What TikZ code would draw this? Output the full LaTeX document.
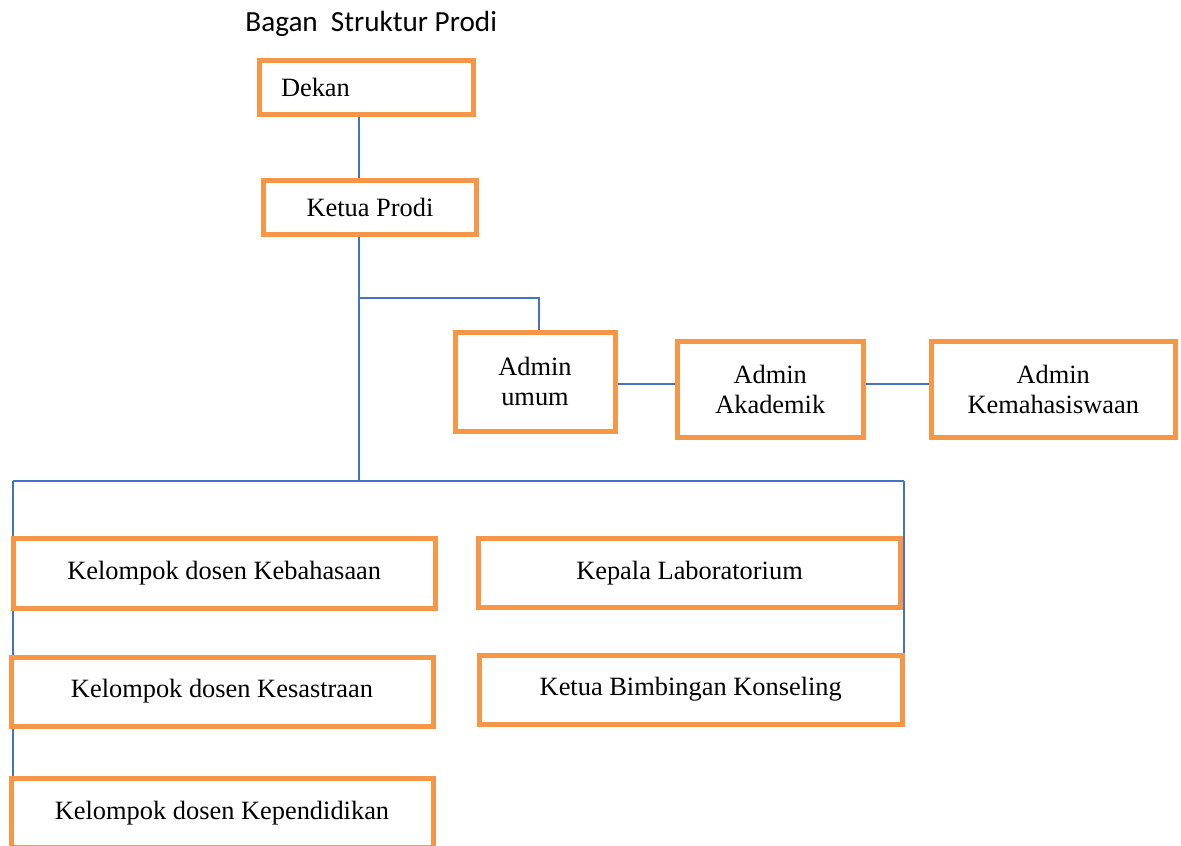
\documentclass[tikz,border=0pt]{standalone}
\usepackage{fontspec}
\setmainfont{Liberation Serif}
\newfontfamily\judulfont{Carlito}
\usetikzlibrary{backgrounds}

\definecolor{oranye}{HTML}{F79646}
\definecolor{biru}{HTML}{4472C4}

\tikzset{
	kotak/.style={draw=oranye, line width=2.5pt, fill=white, inner sep=0pt,
		align=center, font=\fontsize{13.2}{15}\selectfont},
	garis/.style={draw=biru, line width=0.9pt},
}

\begin{document}
\begin{tikzpicture}[x=0.5pt, y=-0.5pt]
		\useasboundingbox (0,0) rectangle (1181,845);
		\clip (0,0) rectangle (1181,845);

		% Judul
		\node[anchor=base west, inner sep=0pt, font=\judulfont\fontsize{14.6}{16}\selectfont] (judul) at (245,31.5) {Bagan\ \ Struktur Prodi};

		% Pimpinan
		\node[kotak, minimum width=107pt, minimum height=27pt, text width=85pt, inner xsep=11pt, align=left] (dekan) at (366,87.5) {Dekan};
		\node[kotak, minimum width=106.75pt, minimum height=27pt] (ketua) at (370,207.5) {Ketua Prodi};

		% Admin
		\node[kotak, minimum width=80pt, minimum height=49.25pt] (umum) at (535,381.75) {Admin\\umum};
		\node[kotak, minimum width=93.25pt, minimum height=48.25pt] (akademik) at (770.25,389.25) {Admin\\Akademik};
		\node[kotak, minimum width=121.75pt, minimum height=48pt] (mhs) at (1053.25,389) {Admin\\Kemahasiswaan};

		% Kelompok dosen, laboratorium, konseling
		\node[kotak, minimum width=210.75pt, minimum height=34.75pt] (bahasa) at (224.25,573.25) {Kelompok dosen Kebahasaan};
		\node[kotak, minimum width=211pt, minimum height=34.5pt] (sastra) at (222,691.5) {Kelompok dosen Kesastraan};
		\node[kotak, minimum width=211pt, minimum height=34.5pt] (didik) at (222,813) {Kelompok dosen Kependidikan};
		\node[kotak, minimum width=211pt, minimum height=34.75pt] (lab) at (689.5,572.75) {Kepala Laboratorium};
		\node[kotak, minimum width=211.75pt, minimum height=34.5pt] (konseling) at (690.75,689.5) {Ketua Bimbingan Konseling};

		% Titik bantu garis
		\coordinate (pusat) at (359,480.7);
		\coordinate (cabang) at (359,298.3);
		\coordinate (jalur) at (0,384);
		\coordinate (kiri) at (13.3,480.7);
		\coordinate (kanan) at (904,480.7);

		% Garis penghubung
		\begin{scope}[on background layer]
			\draw[garis] (dekan.south -| pusat) -- (ketua.north -| pusat);
			\draw[garis] (ketua.south -| pusat) -- (pusat);
			\draw[garis] (cabang) -| ([xshift=2pt]umum.north);
			\draw[garis] (umum.east |- jalur) -- (akademik.west |- jalur);
			\draw[garis] (akademik.east |- jalur) -- (mhs.west |- jalur);
			\draw[garis] (kiri) -- (kanan);
			\draw[garis] (kiri) -- (kiri |- didik.north);
			\draw[garis] (kanan) -- (kanan |- konseling.north);
		\end{scope}
	\end{tikzpicture}
\end{document}
